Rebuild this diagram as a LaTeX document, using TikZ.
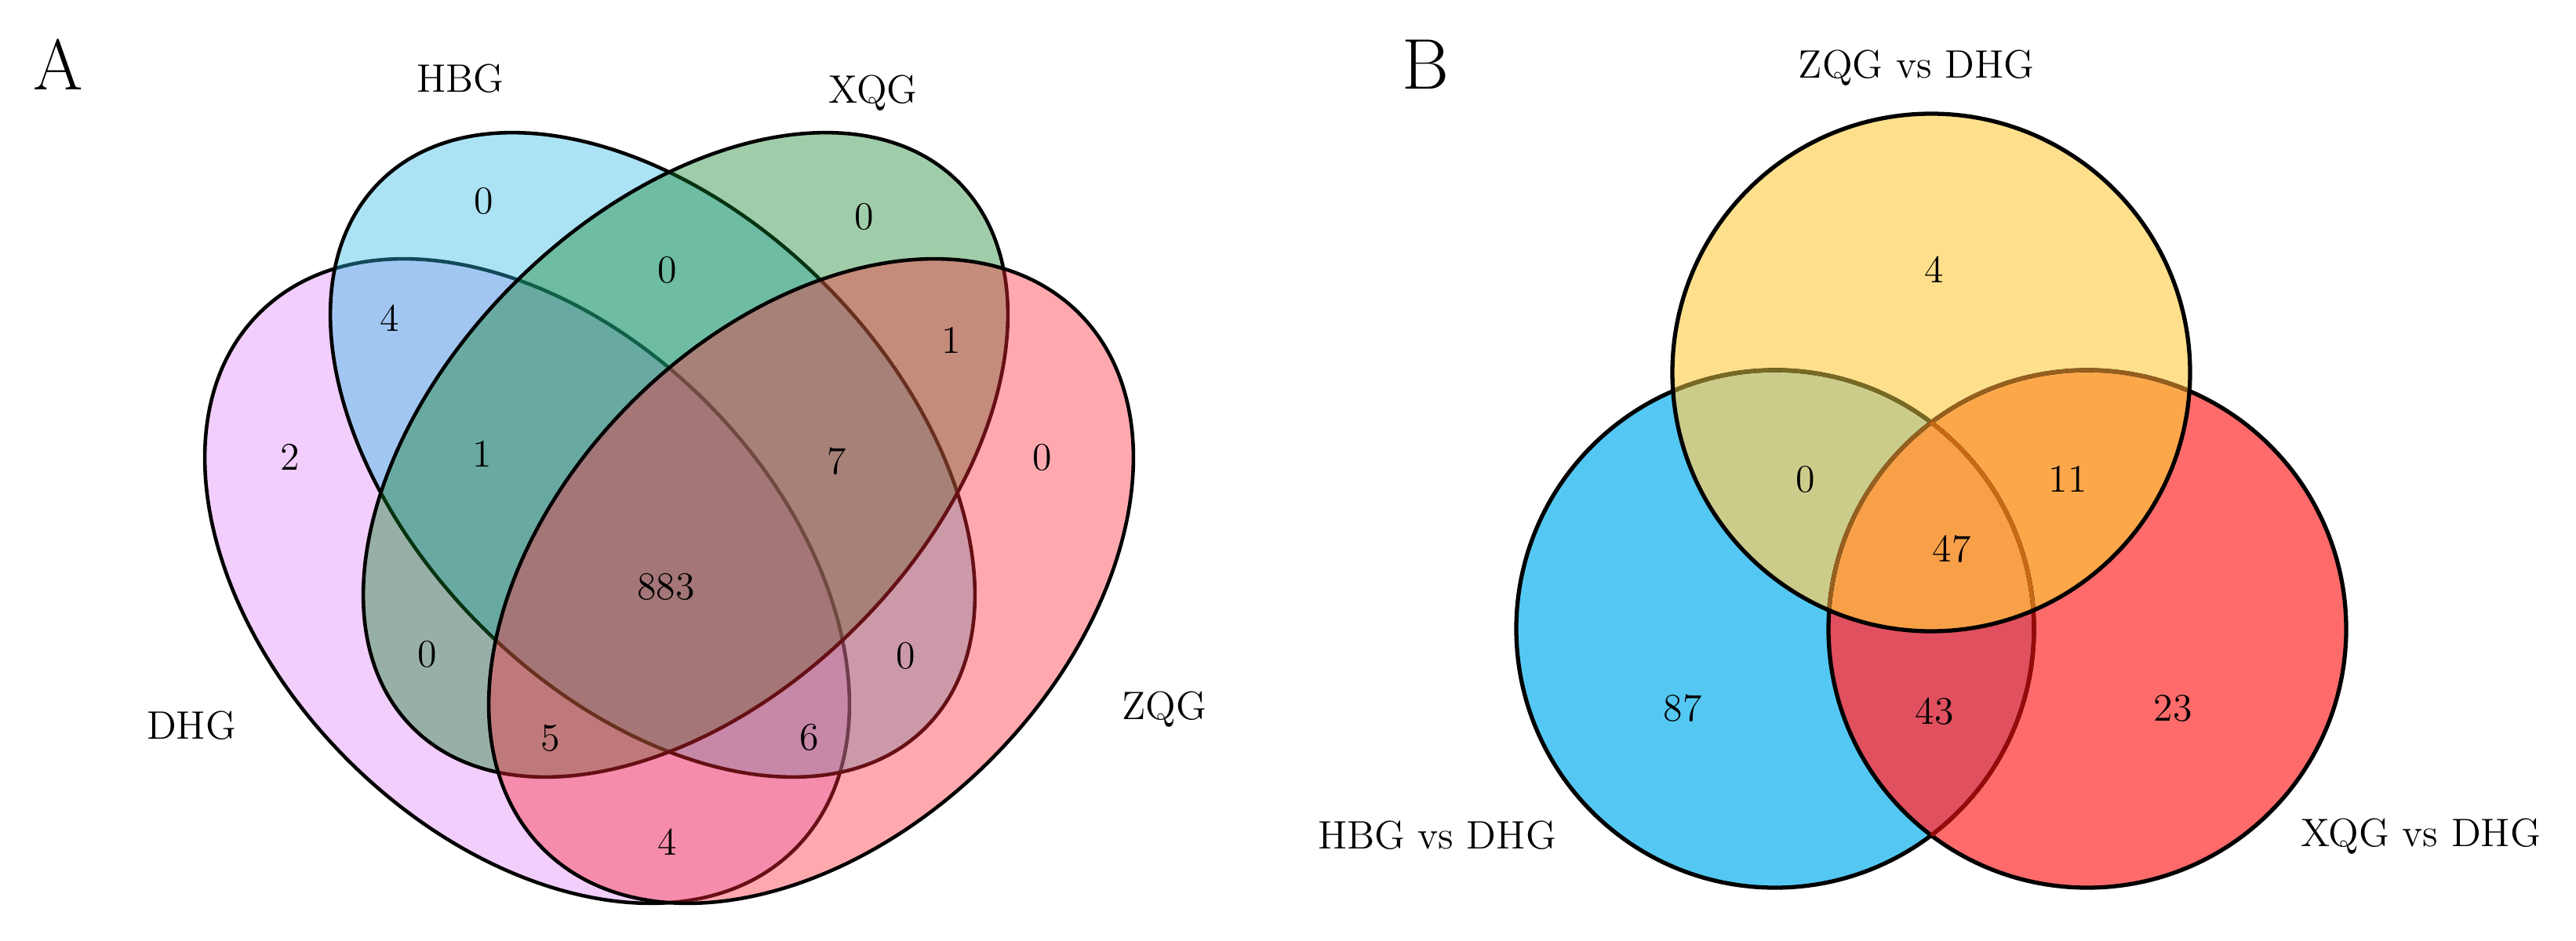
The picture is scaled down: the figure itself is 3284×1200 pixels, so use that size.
\documentclass[tikz,border=0pt]{standalone}
\usepackage{xcolor}
\definecolor{dhgc}{RGB}{222,133,245}
\definecolor{hbgc}{RGB}{45,187,230}
\definecolor{xqgc}{RGB}{17,130,42}
\definecolor{zqgc}{RGB}{255,42,55}
\definecolor{bOnly}{RGB}{84,200,242}
\definecolor{rOnly}{RGB}{255,107,107}
\definecolor{yOnly}{RGB}{254,224,140}
\definecolor{ybCol}{RGB}{204,204,138}
\definecolor{yrCol}{RGB}{251,167,74}
\definecolor{ctrCol}{RGB}{248,160,72}
\definecolor{brCol}{RGB}{224,80,95}
\definecolor{tintBR}{RGB}{150,10,10}
\definecolor{tintBY}{RGB}{120,105,35}
\definecolor{tintBYR}{RGB}{200,105,20}
\definecolor{tintRY}{RGB}{150,95,30}
\begin{document}
\begin{tikzpicture}[x=0.01cm,y=-0.01cm,
  setA/.style={draw=black, line width=1.3pt, fill opacity=0.4},
  ring/.style={draw=black, line width=1.5pt},
  tint/.style={line width=1.5pt},
  lbl/.style={font=\fontsize{14.4}{16}\selectfont, inner sep=0pt},
  num/.style={font=\fontsize{14.2}{16}\selectfont, inner sep=0pt},
  panel/.style={font=\fontsize{26}{30}\selectfont, inner sep=0pt}]
\useasboundingbox[fill=white] (0,0) rectangle (3284,1200);

% ---------------- Panel A ----------------
\draw[setA, fill=dhgc, shift={(672,741)}, rotate=-45] (0,0) ellipse [x radius=483, y radius=323];
\draw[setA, fill=hbgc, shift={(832,580)}, rotate=-45] (0,0) ellipse [x radius=492, y radius=309];
\draw[setA, fill=xqgc, shift={(874,580)}, rotate=45] (0,0) ellipse [x radius=492, y radius=309];
\draw[setA, fill=zqgc, shift={(1034,741)}, rotate=45] (0,0) ellipse [x radius=483, y radius=323];

\node[panel] (pA) at (74,82) {A};
\node[lbl] (lHBG) at (587,100) {HBG};
\node[lbl] (lXQG) at (1113,119) {XQG};
\node[lbl] (lDHG) at (244,925) {DHG};
\node[lbl] (lZQG) at (1484,905) {ZQG};

\node[num] (a01) at (617,256) {0};
\node[num] (a02) at (1102,276) {0};
\node[num] (a03) at (851,344) {0};
\node[num] (a04) at (497,406) {4};
\node[num] (a05) at (1213,434) {1};
\node[num] (a06) at (370,583) {2};
\node[num] (a07) at (615,579) {1};
\node[num] (a08) at (1067,588) {7};
\node[num] (a09) at (1329,583) {0};
\node[num] (a10) at (849,748) {883};
\node[num] (a11) at (545,834) {0};
\node[num] (a12) at (1155,836) {0};
\node[num] (a13) at (702,941) {5};
\node[num] (a14) at (1032,940) {6};
\node[num] (a15) at (851,1074) {4};

% ---------------- Panel B ----------------
\coordinate (cY) at (2462,475);
\coordinate (cB) at (2263,802);
\coordinate (cR) at (2661,802);

\fill[bOnly] (cB) circle (330);
\fill[rOnly] (cR) circle (330);
\begin{scope}
  \clip (cB) circle (330);
  \fill[brCol] (cR) circle (330);
\end{scope}
\fill[yOnly] (cY) circle (330);
\begin{scope}
  \clip (cY) circle (330);
  \fill[ybCol] (cB) circle (330);
  \fill[yrCol] (cR) circle (330);
  \clip (cB) circle (330);
  \fill[ctrCol] (cR) circle (330);
\end{scope}

\draw[ring] (cB) circle (330);
\draw[ring] (cR) circle (330);
\begin{scope}
  \clip (cR) circle (330);
  \draw[tint, draw=tintBR] (cB) circle (330);
\end{scope}
\begin{scope}
  \clip (cY) circle (330);
  \draw[tint, draw=tintBY] (cB) circle (330);
  \draw[tint, draw=tintRY] (cR) circle (330);
  \clip (cR) circle (330);
  \draw[tint, draw=tintBYR] (cB) circle (330);
\end{scope}
\draw[ring] (cY) circle (330);

\node[panel] (pB) at (1817,82) {B};
\node[lbl] (lZD) at (2443,87) {ZQG vs DHG};
\node[lbl] (lHD) at (1832,1065) {HBG vs DHG};
\node[lbl] (lXD) at (3086,1067) {XQG vs DHG};

\node[num] (b1) at (2466,344) {4};
\node[num] (b2) at (2302,611) {0};
\node[num] (b3) at (2636,611) {11};
\node[num] (b4) at (2488,700) {47};
\node[num] (b5) at (2145,903) {87};
\node[num] (b6) at (2466,907) {43};
\node[num] (b7) at (2770,903) {23};
\end{tikzpicture}
\end{document}
